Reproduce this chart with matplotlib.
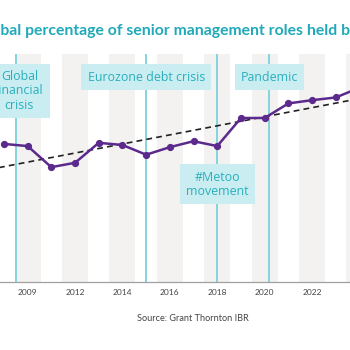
import numpy as np
import matplotlib
matplotlib.use('Agg')
import matplotlib.pyplot as plt

# survey years (one point each, evenly spaced on the chart)
years = ['2007', '2009', '2011', '2012', '2013', '2014', '2015', '2016',
         '2017', '2018', '2019', '2020', '2021', '2022', '2023', '2024']
# % of senior management roles held by women
share = [24.2, 23.8, 19.9, 20.7, 24.4, 24.0, 22.2, 23.6,
         24.7, 23.8, 29.0, 29.0, 31.7, 32.3, 32.8, 34.6]

tick_years = ['2009', '2012', '2014', '2016', '2018', '2020', '2022']

# events: label, position (in year-index units)
events = ['Global\nfinancial\ncrisis', 'Eurozone debt crisis', '#Metoo\nmovement', 'Pandemic']
event_pos = [0.5, 6.0, 9.0, 11.2]
event_text_x = [0.65, 6.0, 9.0, 11.2]
event_box_y = [0.838, 0.899, 0.428, 0.899]

title = 'Global percentage of senior management roles held by women'
source = 'Source: Grant Thornton IBR'

teal = '#1fa9b9'
box_teal = '#2aafbe'
box_fill = '#c9edf0'
line_cyan = '#7ad2dc'
band = '#f3f2f1'
purple = '#5b2a8c'

plt.rcParams['font.family'] = ['Lato', 'DejaVu Sans']

fig = plt.figure(figsize=(3.5, 3.5), dpi=100)
ax = fig.add_axes([0, 0.1943, 1, 0.6514])

x = np.arange(len(years))

# alternating grey columns behind every other year
for i in range(-1, len(years) + 1, 2):
    ax.axvspan(i - 0.55, i + 0.55, color=band, lw=0, zorder=0)

for p in event_pos:
    ax.axvline(p, color=line_cyan, lw=1.3, zorder=1)

# linear trend
k, b = np.polyfit(x, share, 1)
xt = np.array([-1, len(years)])
ax.plot(xt, k * xt + b, color='#222222', lw=1.2, ls=(0, (3.5, 2.5)), zorder=2)

ax.plot(x, share, color=purple, lw=1.8, marker='o', ms=4.2, zorder=3)

for lab, p, yb in zip(events, event_text_x, event_box_y):
    ax.text(p, yb, lab, transform=ax.get_xaxis_transform(), ha='center', va='center',
            fontsize=8.9, family='Open Sans', color=box_teal, linespacing=1.15, zorder=4,
            bbox=dict(boxstyle='square,pad=0.5', fc=box_fill, ec='none'))

ax.set_xlim(-0.165, 14.60)
ax.set_ylim(-1.37, 40.85)
ax.set_xticks([years.index(t) for t in tick_years])
ax.set_xticklabels(tick_years)
ax.tick_params(axis='x', length=0, pad=5, labelsize=6, labelcolor='#444444')
ax.set_yticks([])
for s in ['top', 'left', 'right']:
    ax.spines[s].set_visible(False)
ax.spines['bottom'].set_color('#a0a0a0')
ax.spines['bottom'].set_linewidth(0.9)

# title runs off both edges of the picture; size it so that
# "bal ... held b" fills the width
r = fig.canvas.get_renderer()
probe = fig.text(0, 0, title[3:-7], fontsize=10, fontweight='bold')
w = probe.get_window_extent(r).width
probe.remove()
fs = 10 * 350 / w
probe = fig.text(0, 0, title[:3], fontsize=fs, fontweight='bold')
w0 = probe.get_window_extent(r).width
probe.remove()
fig.text(-w0 / 350, 0.901, title, fontsize=fs, fontweight='bold', color=teal, va='baseline')

fig.text(0.551, 0.091, source, fontsize=6.6, color='#444444', ha='center', va='center')

fig.savefig('out.png', dpi=100)
